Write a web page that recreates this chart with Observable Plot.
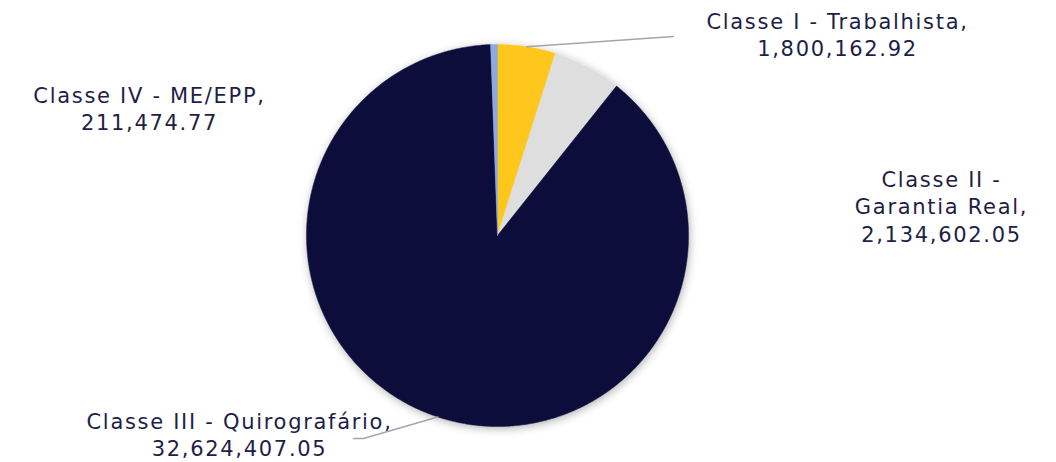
<!DOCTYPE html>
<html>
<head>
<meta charset="utf-8">
<script src="https://cdn.jsdelivr.net/npm/d3@7"></script>
<script src="https://cdn.jsdelivr.net/npm/@observablehq/plot@0.6"></script>
<style>
  html, body { margin: 0; padding: 0; background: #fff; }
  #chart { width: 1056px; height: 462px; }
</style>
</head>
<body>
<div id="chart"></div>
<script>
// ---- data ----
const categories = ["Classe I - Trabalhista", "Classe II - Garantia Real", "Classe III - Quirografário", "Classe IV - ME/EPP"];
const values = [1800162.92, 2134602.05, 32624407.05, 211474.77];

// ---- styles / layout ----
const colors = ["#ffc61f", "#dedede", "#0d0d3b", "#8eaadc"];
const center = {x: 497, y: 235};
const radius = 191;
// label block centres (pixels) and leader line elbows
const labelPos = [
  {x: 837, y: 33},
  {x: 941, y: 205},
  {x: 239, y: 433},
  {x: 149, y: 107}
];
const leaderEnds = [
  [[673, 36]],
  null,
  [[363, 438], [353, 438]],
  null
];
const labelWrap = [
  t => t,
  t => t.replace(" - ", " -\n"),
  t => t,
  t => t
];

const fmt = d3.format(",.2f");
const arcs = d3.pie().sort(null).value(d => d.value)(categories.map((name, i) => ({name, value: values[i]})));
const pt = (a, r) => ({x: center.x + r * Math.sin(a), y: center.y - r * Math.cos(a)});

const sliceMarks = arcs.map((arc, i) => {
  const pts = [{...center}];
  const n = Math.max(2, Math.ceil((arc.endAngle - arc.startAngle) / (Math.PI / 360)));
  for (let k = 0; k <= n; k++) {
    const a = arc.startAngle + (arc.endAngle - arc.startAngle) * k / n;
    pts.push(pt(a, radius));
  }
  pts.push({...center});
  return Plot.line(pts, {x: "x", y: "y", fill: colors[i], stroke: colors[i], strokeWidth: 0.5});
});

const leaderMarks = [];
arcs.forEach((arc, i) => {
  if (!leaderEnds[i]) return;
  const mid = (arc.startAngle + arc.endAngle) / 2;
  const pts = [pt(mid, radius), ...leaderEnds[i].map(([x, y]) => ({x, y}))];
  leaderMarks.push(Plot.line(pts, {x: "x", y: "y", stroke: "#a6a6a6", strokeWidth: 1.5}));
});

const labels = arcs.map((arc, i) => ({
  x: labelPos[i].x,
  y: labelPos[i].y,
  text: labelWrap[i](arc.data.name + ",") + "\n" + fmt(arc.data.value)
}));

const plot = Plot.plot({
  width: 1056,
  height: 462,
  margin: 0,
  x: {domain: [0, 1056], range: [0, 1056], axis: null},
  y: {domain: [0, 462], range: [0, 462], axis: null},
  style: {background: "#fff", fontFamily: "DejaVu Sans"},
  marks: [
    ...sliceMarks,
    ...leaderMarks,
    Plot.text(labels, {
      x: "x", y: "y", text: "text",
      textAnchor: "middle", lineAnchor: "middle",
      fontSize: 21, lineHeight: 1.3, fontWeight: 400,
      fill: "#1e1e46", fontFamily: "DejaVu Sans"
    })
  ]
});

// soft drop shadow under the pie
const svg = d3.select(plot);
const defs = svg.insert("defs", ":first-child");
const f = defs.append("filter").attr("id", "pieShadow").attr("x", "-20%").attr("y", "-20%").attr("width", "140%").attr("height", "140%");
f.append("feDropShadow").attr("dx", 1).attr("dy", 2).attr("stdDeviation", 4).attr("flood-color", "#000").attr("flood-opacity", 0.3);
const lineGroups = svg.selectAll('g[aria-label="line"]').nodes().slice(0, sliceMarks.length);
const pieGroup = svg.insert("g", () => lineGroups[0]).attr("filter", "url(#pieShadow)");
lineGroups.forEach(g => pieGroup.node().appendChild(g));
svg.selectAll('g[aria-label="text"]').style("letter-spacing", "1.7px");

document.getElementById("chart").appendChild(plot);
</script>
</body>
</html>
